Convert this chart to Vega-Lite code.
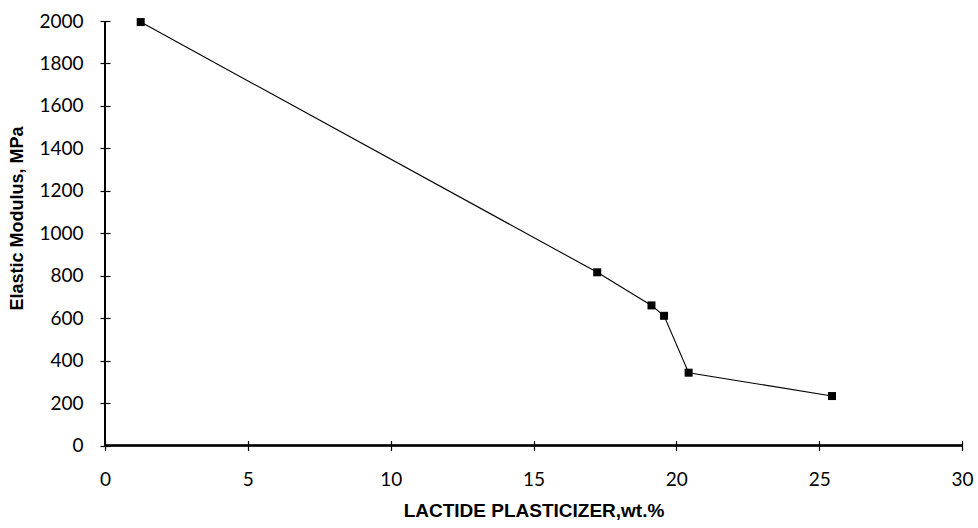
{
  "$schema": "https://vega.github.io/schema/vega-lite/v6.json",
  "width": 857,
  "height": 424.5,
  "autosize": {"type": "none"},
  "padding": {"left": 105, "top": 21, "right": 16, "bottom": 82.5},
  "background": "white",
  "config": {"view": {"stroke": null}},
  "data": {"values": [
    {"x": 1.25, "y": 1995},
    {"x": 17.23, "y": 816},
    {"x": 19.13, "y": 660},
    {"x": 19.57, "y": 611},
    {"x": 20.43, "y": 343},
    {"x": 25.45, "y": 233}
  ]},
  "layer": [
    {
      "mark": {"type": "rule", "color": "black", "strokeWidth": 1.3},
      "encoding": {"y": {"datum": 0, "type": "quantitative"}}
    },
    {
      "mark": {"type": "rule", "color": "black", "strokeWidth": 1.3},
      "encoding": {"x": {"datum": 0, "type": "quantitative"}}
    },
    {
      "mark": {"type": "line", "color": "black", "strokeWidth": 1.1, "point": {"shape": "square", "size": 64, "filled": true, "color": "black", "opacity": 1}},
      "encoding": {
        "x": {
          "field": "x", "type": "quantitative",
          "scale": {"domain": [0, 30], "nice": false, "zero": false},
          "axis": {
            "title": "LACTIDE PLASTICIZER,wt.%",
            "values": [0, 5, 10, 15, 20, 25, 30],
            "format": "d",
            "grid": false, "domain": false, "offset": -5,
            "tickSize": 10, "tickColor": "black", "tickWidth": 1.2,
            "labelFont": "Lato", "labelFontSize": 19, "labelColor": "black", "labelPadding": 20,
            "labelFlush": false,
            "titleFont": "Liberation Sans", "titleFontSize": 19, "titleFontWeight": "bold", "titleColor": "black", "titlePadding": 12
          }
        },
        "y": {
          "field": "y", "type": "quantitative",
          "scale": {"domain": [0, 2000], "nice": false, "zero": false},
          "axis": {
            "title": "Elastic Modulus, MPa",
            "values": [0, 200, 400, 600, 800, 1000, 1200, 1400, 1600, 1800, 2000],
            "format": "d",
            "grid": false, "domain": false, "offset": -5,
            "tickSize": 10, "tickColor": "black", "tickWidth": 1.2,
            "labelFont": "Lato", "labelFontSize": 19, "labelColor": "black", "labelPadding": 17,
            "labelFlush": false,
            "titleFont": "Liberation Sans", "titleFontSize": 18, "titleFontWeight": "bold", "titleColor": "black", "titlePadding": 12,
            "titleY": 197
          }
        }
      }
    }
  ]
}
